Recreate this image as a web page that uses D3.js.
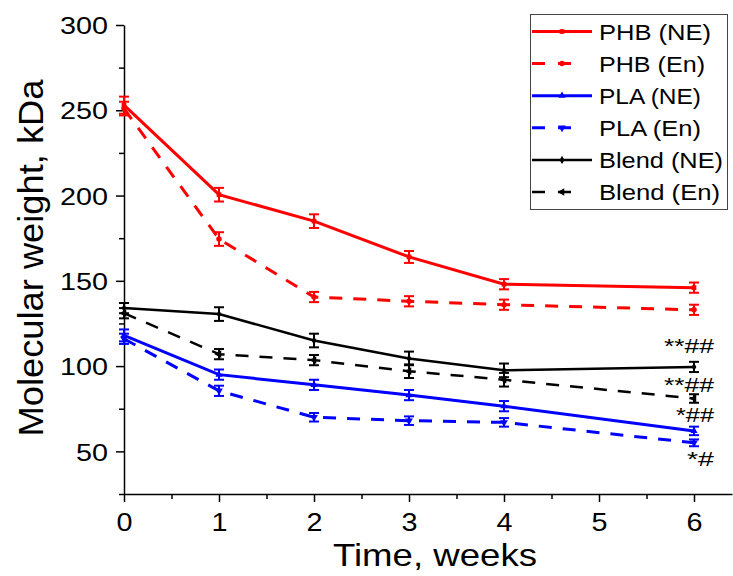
<!DOCTYPE html>
<html>
<head>
<meta charset="utf-8">
<script src="https://cdn.jsdelivr.net/npm/d3@7"></script>
<style>
  body { margin: 0; background: #fff; }
  svg { display: block; }
  text { font-family: "Liberation Sans", Arial, sans-serif; fill: #000; }
</style>
</head>
<body>
<svg id="chart" width="733" height="576"></svg>
<script>
// data
var weeks = [0, 1, 2, 3, 4, 6];

var phbNE = [253, 200.5, 185, 164, 148, 146];
var phbNEerr = [5, 4, 4, 3.5, 3, 3];
var phbEn = [251, 174.5, 140.5, 138, 136, 133];
var phbEnErr = [4, 4, 3, 3, 3, 3];
var plaNE = [118, 95, 89, 83, 76.5, 62];
var plaNEerr = [3.5, 3, 3, 3, 3, 2.5];
var plaEn = [116, 85.5, 70, 68, 67, 55];
var plaEnErr = [3, 3, 2.5, 2.5, 2.5, 2];
var blendNE = [134, 130.5, 115, 104.5, 97.5, 99.5];
var blendNEerr = [3, 4, 4, 4, 4, 3];
var blendEn = [131, 107, 103.5, 97, 92, 81];
var blendEnErr = [3, 3, 3, 4, 4, 2.5];

var seriesNames = ["PHB (NE)", "PHB (En)", "PLA (NE)", "PLA (En)", "Blend (NE)", "Blend (En)"];
var yTicks = [50, 100, 150, 200, 250, 300];
var xTicks = [0, 1, 2, 3, 4, 5, 6];

// significance marks at week 6
var marks = [
  {text: "**##", v: 111.5},
  {text: "**##", v: 89},
  {text: "*##", v: 71.5},
  {text: "*#", v: 45.5}
];

var series = [
  {name: seriesNames[0], vals: phbNE, err: phbNEerr, color: "#ff0000", dash: null, sym: d3.symbolSquare, size: 22},
  {name: seriesNames[1], vals: phbEn, err: phbEnErr, color: "#ff0000", dash: "13,11", sym: d3.symbolCircle, size: 24},
  {name: seriesNames[2], vals: plaNE, err: plaNEerr, color: "#0000ff", dash: null, sym: d3.symbolTriangle, size: 22, rot: 0},
  {name: seriesNames[3], vals: plaEn, err: plaEnErr, color: "#0000ff", dash: "13,11", sym: d3.symbolTriangle, size: 26, rot: 180},
  {name: seriesNames[4], vals: blendNE, err: blendNEerr, color: "#000000", dash: null, sym: d3.symbolDiamond, size: 20},
  {name: seriesNames[5], vals: blendEn, err: blendEnErr, color: "#000000", dash: "13,11", sym: d3.symbolTriangle, size: 26, rot: -90}
];

var svg = d3.select("#chart");

var x = d3.scaleLinear().domain([0, 6.4]).range([124, 732]);
var y = d3.scaleLinear().domain([25, 300]).range([494, 25]);

// minor ticks
svg.append("g")
  .attr("transform", "translate(124,0)")
  .call(d3.axisLeft(y).tickValues(d3.range(25, 300, 50)).tickSize(5).tickSizeOuter(0).tickFormat(""))
  .call(function(g){ g.select(".domain").remove(); })
  .selectAll("line").attr("stroke-width", 1.5);

svg.append("g")
  .attr("transform", "translate(0,494)")
  .call(d3.axisBottom(x).tickValues([0.5, 1.5, 2.5, 3.5, 4.5, 5.5]).tickSize(5).tickSizeOuter(0).tickFormat(""))
  .call(function(g){ g.select(".domain").remove(); })
  .selectAll("line").attr("stroke-width", 1.5);

// major y axis
var yAxis = svg.append("g")
  .attr("transform", "translate(124,0)")
  .call(d3.axisLeft(y).tickValues(yTicks).tickSize(8).tickSizeOuter(0));
yAxis.select(".domain").attr("stroke-width", 1.5);
yAxis.selectAll("line").attr("stroke-width", 1.5);
yAxis.selectAll("text")
  .attr("x", -16)
  .attr("dy", "0.36em")
  .style("font-size", "24px")
  .style("font-family", "'Liberation Sans', Arial, sans-serif")
  .attr("textLength", function(d){ return String(d).length * 16; })
  .attr("lengthAdjust", "spacingAndGlyphs");

// major x axis
var xAxis = svg.append("g")
  .attr("transform", "translate(0,494)")
  .call(d3.axisBottom(x).tickValues(xTicks).tickFormat(d3.format("d")).tickSize(8).tickSizeOuter(0));
xAxis.select(".domain").attr("stroke-width", 1.5);
xAxis.selectAll("line").attr("stroke-width", 1.5);
xAxis.selectAll("text")
  .attr("y", 37)
  .attr("dy", 0)
  .style("font-size", "25px")
  .style("font-family", "'Liberation Sans', Arial, sans-serif")
  .attr("textLength", 16)
  .attr("lengthAdjust", "spacingAndGlyphs");

// axis titles
svg.append("text")
  .attr("x", 435).attr("y", 566)
  .attr("text-anchor", "middle")
  .style("font-size", "32px")
  .attr("textLength", 204)
  .attr("lengthAdjust", "spacingAndGlyphs")
  .text("Time, weeks");

svg.append("text")
  .attr("transform", "translate(43,258) rotate(-90)")
  .attr("text-anchor", "middle")
  .style("font-size", "35px")
  .attr("textLength", 357)
  .attr("lengthAdjust", "spacingAndGlyphs")
  .text("Molecular weight, kDa");

var line = d3.line()
  .x(function(d){ return x(d.w); })
  .y(function(d){ return y(d.v); });

// draw series, back to front so red sits on top like the original
series.slice().reverse().forEach(function(s){
  var pts = weeks.map(function(w, i){ return {w: w, v: s.vals[i], e: s.err[i]}; });
  var g = svg.append("g");

  g.append("path")
    .datum(pts)
    .attr("d", line)
    .attr("fill", "none")
    .attr("stroke", s.color)
    .attr("stroke-width", s.color == "#000000" ? 2.5 : 3)
    .attr("stroke-dasharray", s.dash);

  var eb = g.selectAll(".eb").data(pts).enter().append("g");
  eb.append("line")
    .attr("x1", function(d){ return x(d.w); })
    .attr("x2", function(d){ return x(d.w); })
    .attr("y1", function(d){ return y(d.v - d.e); })
    .attr("y2", function(d){ return y(d.v + d.e); })
    .attr("stroke", s.color).attr("stroke-width", 2);
  [-1, 1].forEach(function(sign){
    eb.append("line")
      .attr("x1", function(d){ return x(d.w) - 5; })
      .attr("x2", function(d){ return x(d.w) + 5; })
      .attr("y1", function(d){ return y(d.v + sign * d.e); })
      .attr("y2", function(d){ return y(d.v + sign * d.e); })
      .attr("stroke", s.color).attr("stroke-width", 2);
  });

  g.selectAll(".pt").data(pts).enter().append("path")
    .attr("d", d3.symbol().type(s.sym).size(s.size))
    .attr("transform", function(d){
      return "translate(" + x(d.w) + "," + y(d.v) + ") rotate(" + (s.rot || 0) + ")";
    })
    .attr("fill", s.color);
});

// significance marks
svg.selectAll(".mark").data(marks).enter().append("text")
  .attr("x", function(d){ return x(6) + 20; })
  .attr("y", function(d){ return y(d.v) + 7; })
  .attr("text-anchor", "end")
  .style("font-size", "20px")
  .attr("textLength", function(d){ return d.text.length == 4 ? 50 : (d.text.length == 3 ? 38 : 27); })
  .attr("lengthAdjust", "spacingAndGlyphs")
  .text(function(d){ return d.text; });

// legend
var legend = svg.append("g");
legend.append("rect")
  .attr("x", 530.5).attr("y", 14.5)
  .attr("width", 197).attr("height", 195)
  .attr("fill", "#fff").attr("stroke", "#444").attr("stroke-width", 1);

var textLens = [112, 106, 102, 102, 124, 121];
series.forEach(function(s, i){
  var cy = 31.5 + i * 32.1;
  var row = legend.append("g");
  row.append("line")
    .attr("x1", 532).attr("x2", s.dash ? 578 : 592)
    .attr("y1", cy).attr("y2", cy)
    .attr("stroke", s.color)
    .attr("stroke-width", s.color == "#000000" ? 2.5 : 3)
    .attr("stroke-dasharray", s.dash ? "13,13" : null);
  row.append("path")
    .attr("d", d3.symbol().type(s.sym).size(s.size))
    .attr("transform", "translate(562," + cy + ") rotate(" + (s.rot || 0) + ")")
    .attr("fill", s.color);
  row.append("text")
    .attr("x", 599).attr("y", cy + 8)
    .style("font-size", "22px")
    .attr("textLength", textLens[i])
    .attr("lengthAdjust", "spacingAndGlyphs")
    .text(s.name);
});
</script>
</body>
</html>
